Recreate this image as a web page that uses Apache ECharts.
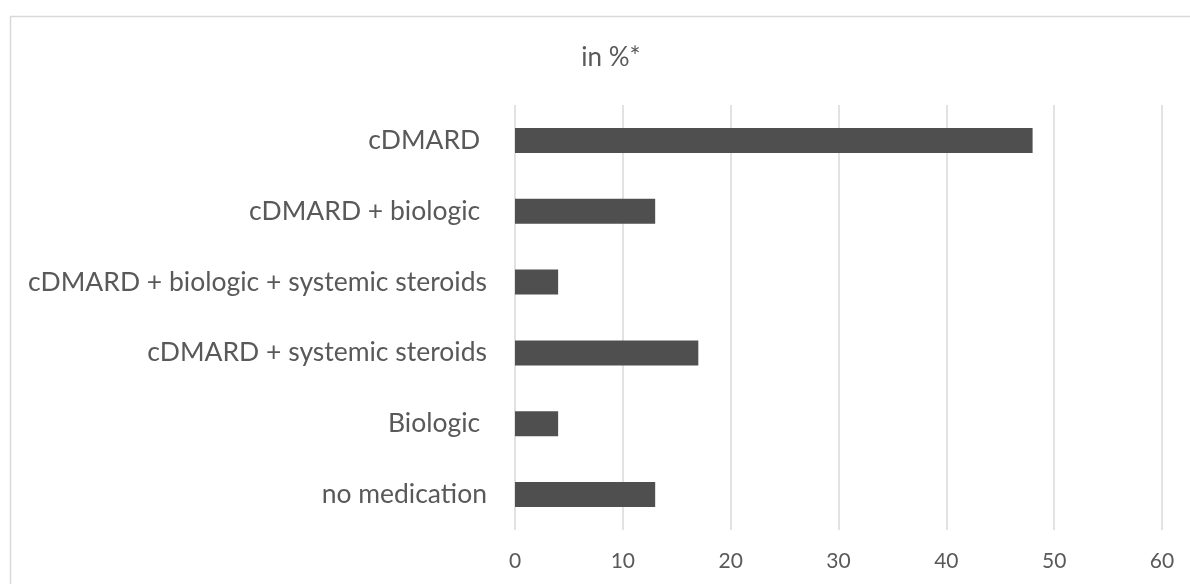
<!DOCTYPE html>
<html>
<head>
<meta charset="utf-8">
<script src="https://cdn.jsdelivr.net/npm/echarts@6/dist/echarts.min.js"></script>
<style>
    html, body { margin: 0; padding: 0; background: #fff; }
    #bar { width: 1190px; height: 584px; }
</style>
</head>
<body>
<div id="bar"></div>
<script>
// categories, top row first
var medication = [
    'cDMARD ',
    'cDMARD + biologic ',
    'cDMARD + biologic + systemic steroids',
    'cDMARD + systemic steroids',
    'Biologic ',
    'no medication'
]

var percent = [48, 13, 4, 17, 4, 13]

var xTicks = [0, 10, 20, 30, 40, 50, 60]

window.onload = function() {
    var medChart = echarts.init(document.getElementById('bar'));

    var textColor = '#595959';
    var fontName = 'Lato';

    var barOption = {
        animation: false,
        graphic: [
            {
                // light frame around the chart area
                type: 'rect',
                shape: { x: 10.5, y: 16.5, width: 1200, height: 620 },
                style: { fill: 'none', stroke: '#d9d9d9', lineWidth: 1.5 },
                silent: true
            }
        ],
        title: {
            text: 'in %*',
            left: 606,
            top: 40,
            textAlign: 'center',
            textStyle: {
                color: textColor,
                fontFamily: fontName,
                fontSize: 26,
                fontWeight: 'normal'
            }
        },
        grid: {
            left: 515,
            right: 28,
            top: 105,
            bottom: 54,
            containLabel: false
        },
        xAxis: {
            type: 'value',
            min: xTicks[0],
            max: xTicks[xTicks.length - 1],
            interval: 10,
            axisLine: { show: false },
            axisTick: { show: false },
            axisLabel: {
                color: textColor,
                fontFamily: fontName,
                fontSize: 21,
                margin: 21
            },
            splitLine: {
                lineStyle: { color: '#d9d9d9', width: 1.5 }
            }
        },
        yAxis: {
            type: 'category',
            inverse: true,
            data: medication,
            axisLine: { show: false },
            axisTick: { show: false },
            axisLabel: {
                color: textColor,
                fontFamily: fontName,
                fontSize: 26.5,
                margin: 28
            }
        },
        series: [
            {
                name: 'in %',
                type: 'bar',
                data: percent,
                barWidth: 25,
                itemStyle: { color: '#4f4f4f' }
            }
        ]
    };

    medChart.setOption(barOption);
}
</script>
</body>
</html>
